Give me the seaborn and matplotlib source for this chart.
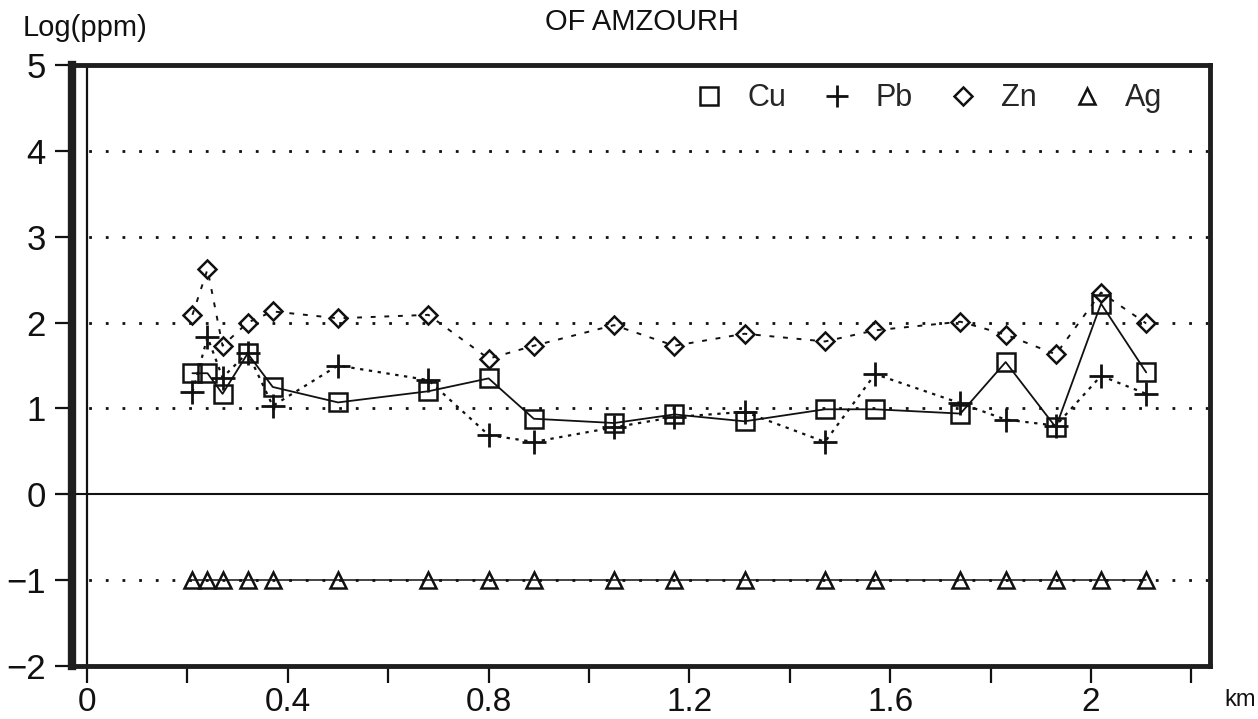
import numpy as np
import pandas as pd
import matplotlib
matplotlib.use("Agg")
import matplotlib.pyplot as plt
from matplotlib.lines import Line2D
import seaborn as sns

# Sampling positions along the traverse (km)
distance_km = [0.21, 0.24, 0.27, 0.32, 0.37, 0.50, 0.68, 0.80, 0.89, 1.05,
               1.17, 1.31, 1.47, 1.57, 1.74, 1.83, 1.93, 2.02, 2.11]

# Log10 of concentrations (ppm)
cu = [1.41, 1.41, 1.17, 1.64, 1.25, 1.07, 1.20, 1.35, 0.88, 0.83,
      0.93, 0.85, 0.99, 0.99, 0.94, 1.54, 0.78, 2.22, 1.42]
pb = [1.19, 1.83, 1.36, 1.65, 1.03, 1.50, 1.33, 0.69, 0.61, 0.78,
      0.90, 0.96, 0.61, 1.40, 1.06, 0.87, 0.80, 1.38, 1.17]
zn = [2.09, 2.62, 1.73, 2.00, 2.13, 2.05, 2.09, 1.58, 1.73, 1.97,
      1.73, 1.87, 1.78, 1.91, 2.01, 1.86, 1.63, 2.35, 1.99]
ag = [-1.0] * len(distance_km)

elements = ["Cu", "Pb", "Zn", "Ag"]
x_major = [0, 0.4, 0.8, 1.2, 1.6, 2.0]
x_major_labels = ["0", "0.4", "0.8", "1.2", "1.6", "2"]
x_minor = [0.2, 0.6, 1.0, 1.4, 1.8, 2.2]
y_ticks = [-2, -1, 0, 1, 2, 3, 4, 5]
y_grid = [-1, 1, 2, 3, 4]

df = pd.DataFrame({"km": distance_km, "Cu": cu, "Pb": pb, "Zn": zn, "Ag": ag})

sns.set_theme(style="white")
plt.rcParams["font.family"] = ["Liberation Sans", "DejaVu Sans"]

fig = plt.figure(figsize=(12.58, 7.19), dpi=100)
ax = fig.add_axes([0.0572, 0.0737, 0.9046, 0.8359])

ink = "#111111"

# dotted reference levels and the zero baseline
for yv in y_grid:
    ax.axhline(yv, color=ink, lw=2.0, ls=(0, (1, 5)), zorder=1)
ax.axhline(0, color=ink, lw=1.5, zorder=1)
ax.axvline(0, color=ink, lw=1.6, zorder=1)

styles = {
    "Cu": dict(marker="s", ls="-", lw=1.3, ms=13),
    "Pb": dict(marker="+", ls=(0, (1.5, 2.5)), lw=1.6, ms=17, mew=2.0),
    "Zn": dict(marker="D", ls=(0, (2.5, 4.5)), lw=1.4, ms=9.5),
    "Ag": dict(marker="^", ls="-", lw=1.1, ms=12),
}

for name in elements:
    st = styles[name]
    sns.lineplot(data=df, x="km", y=name, ax=ax, sort=False, color=ink,
                 linestyle=st["ls"], linewidth=st["lw"], marker=st["marker"],
                 markersize=st["ms"], markerfacecolor="none",
                 markeredgecolor=ink, markeredgewidth=st.get("mew", 1.8),
                 zorder=3)

ax.set_xlim(-0.03, 2.237)
ax.set_ylim(-2, 5)
ax.set_xlabel("")
ax.set_ylabel("")

ax.set_xticks(x_major)
ax.set_xticklabels(x_major_labels, fontsize=24)
ax.set_xticks(x_minor, minor=True)
ax.set_yticks(y_ticks)
ax.set_yticklabels([str(v).replace("-", "\u2212") for v in y_ticks], fontsize=25)
ax.tick_params(axis="both", which="both", direction="out", length=12,
               width=1.6, color=ink, labelcolor=ink)
ax.tick_params(axis="x", which="both", pad=3, bottom=True)
ax.tick_params(axis="y", pad=7, left=True)

for side in ["top", "right", "bottom"]:
    ax.spines[side].set_linewidth(3.5)
    ax.spines[side].set_color("#1e1e1e")
ax.spines["left"].set_linewidth(6)
ax.spines["left"].set_color("#1e1e1e")

handles = [Line2D([], [], ls="none", color=ink, marker=styles[n]["marker"],
                  ms=styles[n]["ms"] * 0.95, mfc="none", mec=ink,
                  mew=styles[n].get("mew", 1.8)) for n in elements]
ax.legend(handles, elements, loc="upper right", ncol=4, frameon=False,
          fontsize=22, handlelength=1.0, handletextpad=0.75, columnspacing=1.15,
          bbox_to_anchor=(0.977, 1.005), borderaxespad=0.3)

fig.text(0.018, 0.961, "Log(ppm)", fontsize=21, ha="left", va="center", color=ink)
fig.text(0.51, 0.969, "OF AMZOURH", fontsize=21, ha="center", va="center", color=ink)
fig.text(0.986, 0.026, "km", fontsize=17, ha="center", va="center", color=ink)

fig.savefig("out.png", dpi=100, facecolor="white")
